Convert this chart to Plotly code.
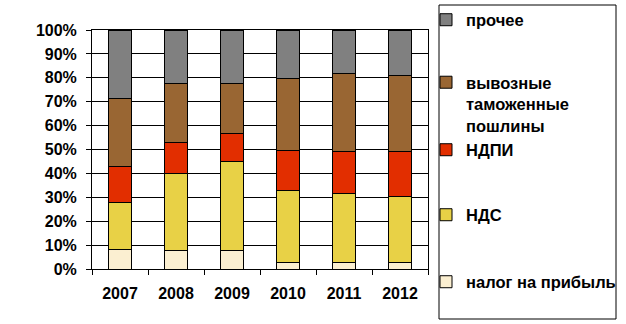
import plotly.graph_objects as go

years = ["2007", "2008", "2009", "2010", "2011", "2012"]
series_names = ["налог на прибыль", "НДС", "НДПИ", "вывозные<br>таможенные<br>пошлины", "прочее"]
nalog = [8.3, 7.9, 7.9, 2.9, 2.9, 2.9]
nds = [19.6, 32.1, 37.1, 30.0, 28.8, 27.4]
ndpi = [15.0, 12.9, 11.7, 16.7, 17.5, 18.9]
poshliny = [28.5, 24.8, 21.0, 30.1, 32.7, 31.9]
prochee = [28.6, 22.3, 22.3, 20.3, 18.1, 18.9]
colors = ["#FBEFD1", "#E8D146", "#E22E00", "#996633", "#808080"]
tick_vals = [0, 10, 20, 30, 40, 50, 60, 70, 80, 90, 100]
tick_text = [f"{v}%" for v in tick_vals]

W, H = 626, 324
FAM = "Liberation Sans, Arial, sans-serif"
# legend item centre rows (pixels from top) in the reference layout
legend_rows = [282, 215, 150, 104, 20]
legend_valign = ["middle", "middle", "middle", "top", "middle"]
legend_names = ["legend", "legend2", "legend3", "legend4", "legend5"]

fig = go.Figure()
for i, (name, vals) in enumerate(zip(series_names, [nalog, nds, ndpi, poshliny, prochee])):
    fig.add_trace(go.Bar(
        x=years, y=vals, name=name, legend=legend_names[i],
        marker=dict(color=colors[i], line=dict(color="black", width=1)),
    ))

legend_common = dict(
    xref="container", yref="container", x=426 / W, xanchor="left",
    yanchor="middle", borderwidth=0, bgcolor="rgba(0,0,0,0)",
    font=dict(family=FAM, size=16.5, color="black", weight="bold"),
)
layout_legends = {}
for ln, row, va in zip(legend_names, legend_rows, legend_valign):
    layout_legends[ln] = dict(legend_common, y=1 - row / H, valign=va)

fig.update_layout(
    barmode="stack",
    bargap=0.59,
    width=W, height=H,
    margin=dict(l=92, r=198, t=30, b=55, autoexpand=False),
    paper_bgcolor="white", plot_bgcolor="white",
    font=dict(family=FAM, size=16, color="black"),
    showlegend=True,
    **layout_legends,
)
# legend frame
fig.add_shape(type="rect", xref="paper", yref="paper",
              x0=(439 - 92) / 336, x1=(616 - 92) / 336,
              y0=(269 - 319) / 239, y1=(269 - 5) / 239,
              line=dict(color="black", width=1), fillcolor="rgba(0,0,0,0)")

fig.update_yaxes(
    range=[0, 100], tickvals=tick_vals, ticktext=tick_text,
    showgrid=True, gridcolor="black", gridwidth=1,
    showline=True, linecolor="black", linewidth=1, mirror=True,
    ticks="outside", ticklen=5, tickcolor="black", ticklabelstandoff=6,
    tickfont=dict(family=FAM, size=16, color="black", weight="bold"),
    zeroline=False,
)
fig.update_xaxes(
    showline=True, linecolor="black", linewidth=1, mirror=True,
    ticks="outside", ticklen=5, tickcolor="black", tickson="boundaries",
    ticklabelstandoff=10,
    tickfont=dict(family=FAM, size=16, color="black", weight="bold"),
    showgrid=False,
)
fig.write_html("out.html")
